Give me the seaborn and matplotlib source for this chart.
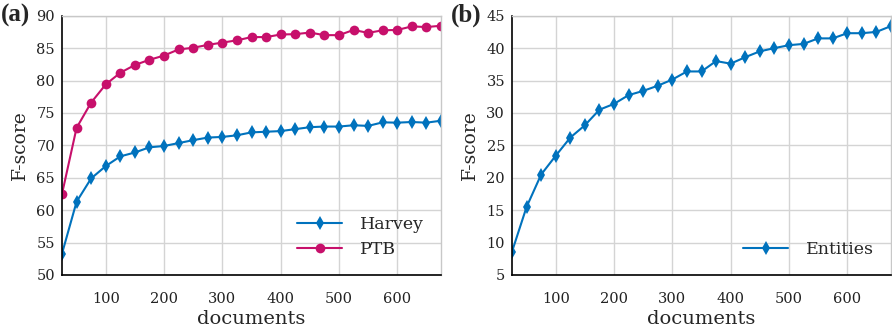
import numpy as np
import pandas as pd
import matplotlib
matplotlib.use("Agg")
import matplotlib.pyplot as plt
import seaborn as sns

documents = list(range(25, 676, 25))
harvey = [53.3, 61.3, 64.9, 66.8, 68.3, 68.9, 69.7, 69.9, 70.35, 70.8, 71.2, 71.3, 71.55,
          72.0, 72.1, 72.2, 72.5, 72.8, 72.9, 72.9, 73.1, 73.0, 73.55, 73.5, 73.6, 73.5, 73.8]
ptb = [62.5, 72.7, 76.6, 79.4, 81.2, 82.4, 83.2, 83.85, 84.8, 85.05, 85.5, 85.85, 86.2,
       86.7, 86.7, 87.1, 87.15, 87.4, 87.0, 87.0, 87.8, 87.35, 87.75, 87.8, 88.35, 88.25, 88.45]
entities = [8.6, 15.5, 20.5, 23.4, 26.2, 28.1, 30.5, 31.4, 32.75, 33.4, 34.2, 35.15, 36.4,
            36.4, 38.0, 37.6, 38.6, 39.5, 40.0, 40.45, 40.65, 41.5, 41.5, 42.3, 42.3, 42.5, 43.4]

xticks = [100, 200, 300, 400, 500, 600]
yticks_a = [50, 55, 60, 65, 70, 75, 80, 85, 90]
yticks_b = [5, 10, 15, 20, 25, 30, 35, 40, 45]

BLUE = "#0072BD"
MAGENTA = "#C7106B"

sns.set_theme(style="whitegrid")
plt.rcParams["font.family"] = ["DejaVu Serif"]

df_a = pd.DataFrame({
    "documents": documents * 2,
    "F-score": harvey + ptb,
    "series": ["Harvey"] * len(documents) + ["PTB"] * len(documents),
})
df_b = pd.DataFrame({
    "documents": documents,
    "F-score": entities,
    "series": ["Entities"] * len(documents),
})

fig = plt.figure(figsize=(8.92, 3.30), dpi=100)
W, H = 892, 330
ax1 = fig.add_axes([62 / W, 1 - 275 / H, (441 - 62) / W, (275 - 15.7) / H])
ax2 = fig.add_axes([512 / W, 1 - 275 / H, (891 - 512) / W, (275 - 15.7) / H])

sns.lineplot(data=df_a, x="documents", y="F-score", hue="series", style="series",
             markers={"Harvey": "d", "PTB": "o"}, dashes=False,
             palette={"Harvey": BLUE, "PTB": MAGENTA}, ax=ax1,
             linewidth=1.5, markersize=7, markeredgewidth=0)
sns.lineplot(data=df_b, x="documents", y="F-score", hue="series", style="series",
             markers={"Entities": "d"}, dashes=False,
             palette={"Entities": BLUE}, ax=ax2,
             linewidth=1.5, markersize=7, markeredgewidth=0)

for ax, yt, lab in [(ax1, yticks_a, "(a)"), (ax2, yticks_b, "(b)")]:
    ax.set_xlim(25, 675)
    ax.set_ylim(yt[0], yt[-1])
    ax.set_xticks(xticks)
    ax.set_yticks(yt)
    ax.set_xlabel("documents", fontsize=14, labelpad=3)
    ax.set_ylabel("F-score", fontsize=13.5, labelpad=5)
    ax.tick_params(axis="both", labelsize=10.5, length=0, colors="#222222")
    ax.tick_params(axis="x", pad=12)
    ax.tick_params(axis="y", pad=5)
    ax.grid(True, color="#d4d4d4", linewidth=1.0)
    for s in ["left", "bottom"]:
        ax.spines[s].set_color("black")
        ax.spines[s].set_linewidth(1.2)
    for s in ["top", "right"]:
        ax.spines[s].set_color("#c8c8c8")
        ax.spines[s].set_linewidth(1.0)
    ax.set_facecolor("white")
    leg = ax.legend(loc="lower right", frameon=False, fontsize=12.5,
                    handlelength=2.6, borderaxespad=0.6, labelspacing=0.45,
                    handletextpad=1.0)
    ax.text(-0.16, 1.0, lab, transform=ax.transAxes, fontsize=18, fontweight="bold",
            family=["Liberation Serif"], ha="left", va="center")

fig.savefig("out.png", dpi=100)
